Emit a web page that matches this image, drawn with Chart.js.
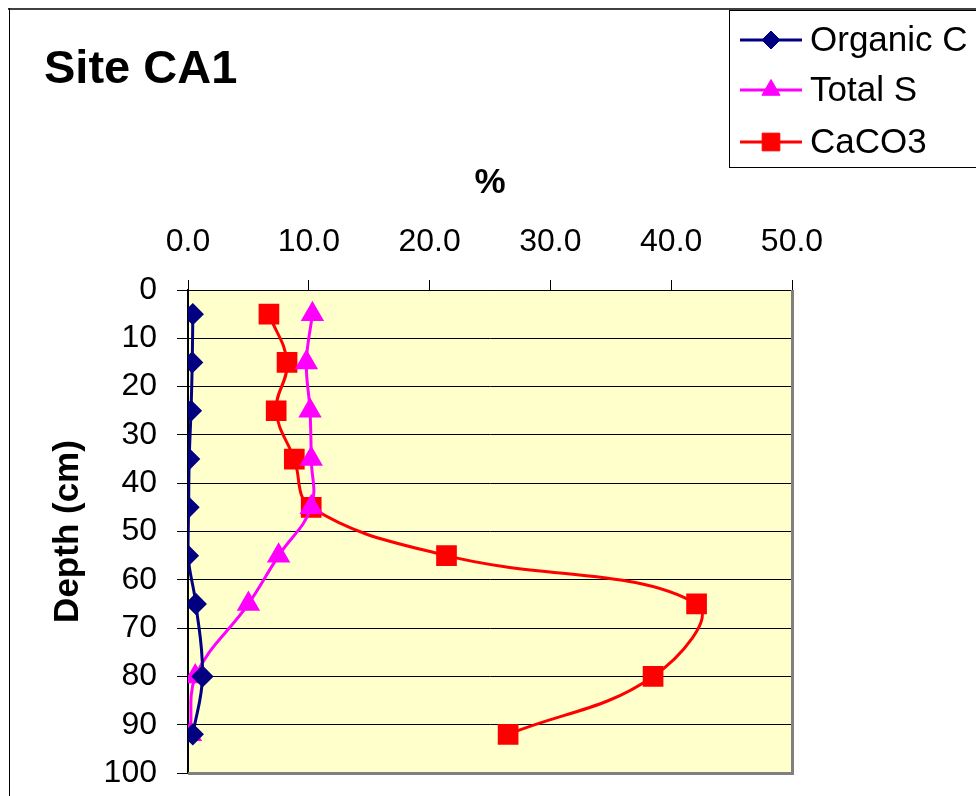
<!DOCTYPE html>
<html>
<head>
<meta charset="utf-8">
<script src="https://cdn.jsdelivr.net/npm/chart.js@4/dist/chart.umd.min.js"></script>
<style>
  html, body { margin: 0; padding: 0; background: #ffffff; }
  #wrap { position: relative; width: 976px; height: 796px; }
  canvas { display: block; }
</style>
</head>
<body>
<div id="wrap"><canvas id="c" width="976" height="796"></canvas></div>
<script>
// ---- Data ----
const chartTitle = "Site CA1";
const xAxisTitle = "%";
const yAxisTitle = "Depth (cm)";
const depths = [5, 15, 25, 35, 45, 55, 65, 80, 92];
const organicC = [0.4, 0.35, 0.25, 0.1, 0.05, 0.0, 0.65, 1.2, 0.4];
const totalS = [10.3, 9.8, 10.1, 10.2, 10.2, 7.5, 5.0, 0.6, 0.2];
const caco3 = [6.7, 8.2, 7.3, 8.8, 10.2, 21.4, 42.1, 38.5, 26.5];
const seriesNames = ["Organic C", "Total S", "CaCO3"];
const xTicks = [0, 10, 20, 30, 40, 50];
const yTicks = [0, 10, 20, 30, 40, 50, 60, 70, 80, 90, 100];

const toPoints = vals => vals.map((v, i) => ({ x: v, y: depths[i] }));

const FONT = "'Liberation Sans', Arial, sans-serif";

const framePlugin = {
  id: 'frame',
  beforeDraw(chart) {
    const { ctx, chartArea: a } = chart;
    ctx.save();
    ctx.fillStyle = '#FFFFCC';
    ctx.fillRect(a.left, a.top, a.right - a.left, a.bottom - a.top);
    ctx.restore();
  },
  beforeDatasetsDraw(chart) {
    const { ctx, chartArea: a } = chart;
    ctx.save();
    ctx.strokeStyle = '#808080';
    ctx.lineWidth = 3;
    ctx.beginPath();
    ctx.moveTo(a.right + 0.5, a.top);
    ctx.lineTo(a.right + 0.5, a.bottom + 0.5);
    ctx.lineTo(a.left, a.bottom + 0.5);
    ctx.stroke();
    ctx.restore();
  },
  afterDraw(chart) {
    const { ctx } = chart;
    ctx.save();
    // outer chart frame
    ctx.strokeStyle = '#404040';
    ctx.lineWidth = 2;
    ctx.beginPath();
    ctx.moveTo(8, 9);
    ctx.lineTo(976, 9);
    ctx.stroke();
    ctx.strokeStyle = '#000000';
    ctx.lineWidth = 1;
    ctx.beginPath();
    ctx.moveTo(9.5, 8);
    ctx.lineTo(9.5, 796);
    ctx.stroke();
    // title
    ctx.fillStyle = '#000000';
    ctx.font = "bold 47px " + FONT;
    ctx.textAlign = 'left';
    ctx.textBaseline = 'alphabetic';
    ctx.fillText(chartTitle, 44, 83);
    // legend box
    ctx.strokeStyle = '#000000';
    ctx.lineWidth = 1;
    ctx.strokeRect(729.5, 10.5, 260, 157);
    const rows = [40, 90, 142];
    chart.data.datasets.forEach((ds, i) => {
      const y = rows[i];
      ctx.strokeStyle = ds.borderColor;
      ctx.lineWidth = 3;
      ctx.beginPath();
      ctx.moveTo(740, y);
      ctx.lineTo(802, y);
      ctx.stroke();
      ctx.fillStyle = ds.pointBackgroundColor;
      ctx.strokeStyle = ds.pointBorderColor;
      ctx.lineWidth = 1;
      Chart.helpers.drawPoint(ctx, { pointStyle: ds.pointStyle, radius: ds.pointRadius, rotation: 0, borderWidth: 1 }, 771, y);
      ctx.fillStyle = '#000000';
      ctx.font = "35px " + FONT;
      ctx.textAlign = 'left';
      ctx.textBaseline = 'middle';
      ctx.fillText(ds.label, 810, y + 1);
    });
    ctx.restore();
  }
};

new Chart(document.getElementById('c'), {
  type: 'scatter',
  data: {
    datasets: [
      {
        label: seriesNames[0], data: toPoints(organicC), showLine: true,
        borderColor: '#000080', backgroundColor: '#000080',
        pointBackgroundColor: '#000080', pointBorderColor: '#000080',
        pointStyle: 'rectRot', pointRadius: 9, borderWidth: 3, tension: 0.4
      },
      {
        label: seriesNames[1], data: toPoints(totalS), showLine: true,
        borderColor: '#FF00FF', backgroundColor: '#FF00FF',
        pointBackgroundColor: '#FF00FF', pointBorderColor: '#FF00FF',
        pointStyle: 'triangle', pointRadius: 10.5, borderWidth: 3, tension: 0.4
      },
      {
        label: seriesNames[2], data: toPoints(caco3), showLine: true,
        borderColor: '#FF0000', backgroundColor: '#FF0000',
        pointBackgroundColor: '#FF0000', pointBorderColor: '#FF0000',
        pointStyle: 'rect', pointRadius: 12.5, borderWidth: 3, tension: 0.4
      }
    ]
  },
  options: {
    responsive: false,
    animation: false,
    layout: { padding: { left: 20, top: 130, right: 184, bottom: 23 } },
    plugins: { legend: { display: false }, title: { display: false }, tooltip: { enabled: false } },
    scales: {
      x: {
        type: 'linear', position: 'top', min: 0, max: 50,
        afterBuildTicks: s => { s.ticks = xTicks.map(v => ({ value: v })); },
        afterFit: s => { s.height = 160; s.paddingLeft = 0; s.paddingRight = 0; s.paddingTop = 0; s.paddingBottom = 0; },
        ticks: { color: '#000', font: { family: FONT, size: 32 }, padding: 19, maxRotation: 0,
                 callback: v => Number(v).toFixed(1) },
        grid: { drawOnChartArea: false, drawTicks: true, tickLength: 10, color: '#000', lineWidth: 1 },
        border: { display: true, color: '#000', width: 1 },
        title: { display: true, text: xAxisTitle, color: '#000', font: { family: FONT, size: 35, weight: 'bold' }, padding: { top: 32, bottom: 0 } }
      },
      y: {
        type: 'linear', position: 'left', min: 0, max: 100, reverse: true,
        afterBuildTicks: s => { s.ticks = yTicks.map(v => ({ value: v })); },
        afterFit: s => { s.width = 168; s.paddingLeft = 0; s.paddingRight = 0; s.paddingTop = 0; s.paddingBottom = 0; },
        ticks: { color: '#000', font: { family: FONT, size: 32 }, padding: 20 },
        grid: { drawOnChartArea: true, drawTicks: true, tickLength: 11, color: '#000', lineWidth: 1 },
        border: { display: true, color: '#000', width: 2 },
        title: { display: true, text: yAxisTitle, color: '#000', font: { family: FONT, size: 35, weight: 'bold' }, padding: { top: 27, bottom: 0 } }
      }
    }
  },
  plugins: [framePlugin]
});
</script>
</body>
</html>
